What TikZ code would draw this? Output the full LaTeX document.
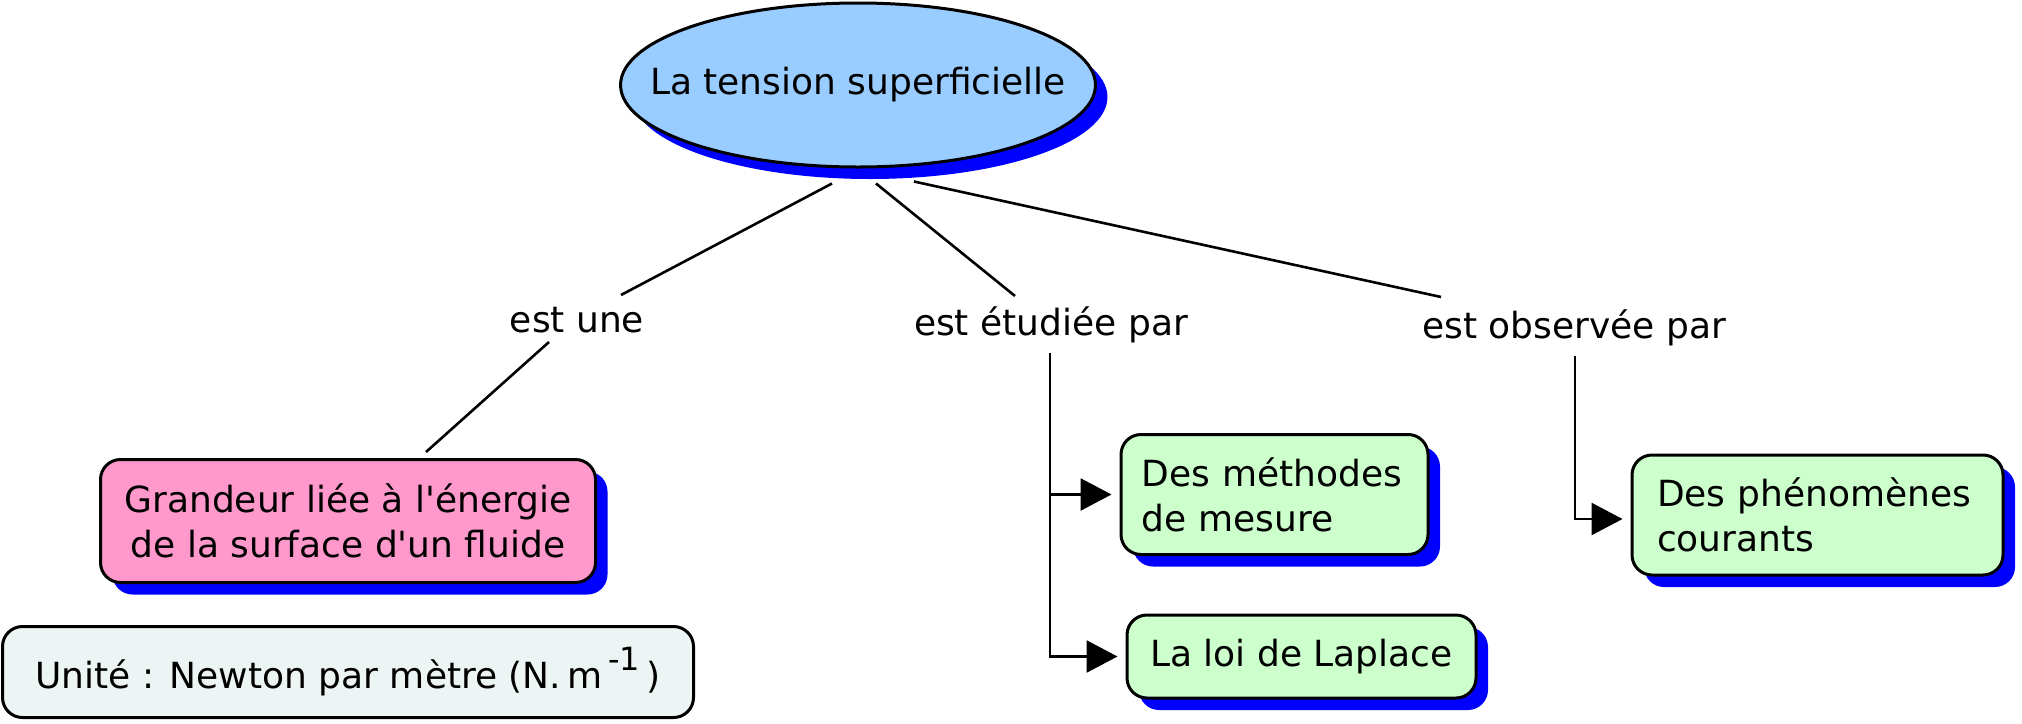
\documentclass[tikz,border=0pt]{standalone}
\usepackage{fontspec}
\setmainfont{DejaVu Sans}[Ligatures=TeXOff]
\usetikzlibrary{positioning,calc,shapes.geometric,shadows,arrows.meta}
\definecolor{bulle}{HTML}{99CCFF}
\definecolor{rose}{HTML}{FF99CC}
\definecolor{vert}{HTML}{CCFFCC}
\definecolor{gris}{HTML}{EDF4F4}
\definecolor{ombrebleu}{HTML}{0000FF}

\begin{document}
\begin{tikzpicture}[x=0.5pt, y=-0.5pt,
    font=\fontsize{18}{22.5}\selectfont,
    ombre/.style={drop shadow={shadow xshift=6pt, shadow yshift=-6pt, fill=ombrebleu, opacity=1}},
    boite/.style={draw, line width=1.5pt, rounded corners=10pt, inner sep=0pt},
    mot/.style={inner sep=0pt, anchor=base},
    lien/.style={line width=1.3pt},
    fleche/.style={line width=1.3pt, -{Triangle[length=15.5pt, width=16pt]}, shorten >=4pt}
]
\useasboundingbox (0,0) rectangle (2022,723);

\node[ellipse, draw, line width=1.5pt, fill=bulle, ombre, inner xsep=-20pt, inner ysep=0pt,
      minimum width=235pt, minimum height=82pt] (tension) at (858,85) {La tension superficielle};

\node[mot] (estune) at (577,332) {est une};
\node[mot] (etudiee) at (1051,335) {est étudiée par};
\node[mot] (observee) at (1574,338) {est observée par};

\node[boite, fill=rose, ombre, align=center, minimum width=247.5pt, minimum height=61.5pt]
    (grandeur) at (348,521) {Grandeur liée à l'énergie\\de la surface d'un fluide};
\node[boite, fill=gris, minimum width=345.5pt, minimum height=45.5pt]
    (unite) at (348,672) {Unité : Newton par mètre (N.\,m\,\raisebox{0.5em}{\fontsize{16}{16}\selectfont -1}\,)};

\node[boite, fill=vert, ombre, align=left, text width=133pt, inner xsep=10.25pt, minimum height=60pt]
    (methodes) at (1274.5,494.5) {Des méthodes\\de mesure};
\node[boite, fill=vert, ombre, minimum width=174.5pt, minimum height=41.5pt]
    (laplace) at (1301.5,656.5) {La loi de Laplace};
\node[boite, fill=vert, ombre, align=left, text width=160.5pt, inner xsep=12.5pt, minimum height=60pt]
    (phenomenes) at (1817.5,515) {Des phénomènes\\courants};

% est une
\draw[lien] ($(tension.south)+(-26,15)$) -- ($(estune.base)+(44,-37)$);
\draw[lien] ($(estune.base)+(-28,10)$) -- ($(grandeur.north)+(78,-6)$);

% est etudiee par
\draw[lien] ($(tension.south)+(18,15)$) -- ($(etudiee.base)+(-36,-39)$);
\coordinate (e1) at ($(etudiee.base)+(-1,18)$);
\draw[fleche] (e1) |- (laplace.west);
\draw[fleche] (e1 |- methodes.west) -- (methodes.west);

% est observee par
\draw[lien] ($(tension.south)+(56,13)$) -- ($(observee.base)+(-133,-41)$);
\coordinate (o1) at ($(observee.base)+(1,18)$);
\draw[fleche] (o1) |- ($(phenomenes.west)+(0,4)$);

\end{tikzpicture}
\end{document}
